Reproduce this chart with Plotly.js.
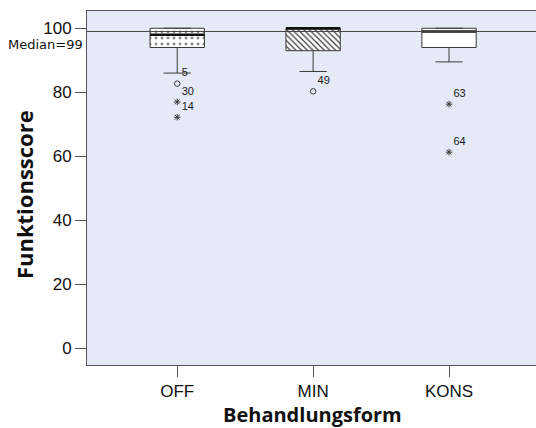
<!DOCTYPE html>
<html>
<head>
<meta charset="utf-8">
<script src="https://cdn.plot.ly/plotly-3.0.1.min.js"></script>
<style>
  html, body { margin: 0; padding: 0; background: #ffffff; }
  #chart { width: 536px; height: 428px; }
</style>
</head>
<body>
<div id="chart"></div>
<script>
// Treatment groups on the x axis
const categories = ['OFF', 'MIN', 'KONS'];

// Box statistics per group (Funktionsscore)
const q1 = [94, 93, 94];
const median = [98, 100, 99];
const q3 = [100, 100, 100];
const lowerWhisker = [86, 86.5, 89.5];
const upperWhisker = [100, 100, 100];

// Outliers: group index, value, case number, kind (mild = circle, extreme = star)
const outlierGroup = [0, 0, 0, 1, 2, 2];
const outlierValue = [82.7, 77, 72.2, 80.3, 76.3, 61.3];
const outlierCase = ['5', '30', '14', '49', '63', '64'];
const outlierKind = ['mild', 'extreme', 'extreme', 'mild', 'extreme', 'extreme'];

// Overall median reference line
const overallMedian = 99;

// Fill patterns of the boxes
const boxPatterns = ['.', '\\', ''];

const yTicks = [0, 20, 40, 60, 80, 100];

const positions = categories.map((_, i) => i);
const boxWidth = 0.4;
const lineColor = '#3a3a3a';

// Patterned box bodies (q1 to q3)
const bodyTrace = {
  type: 'bar',
  x: positions,
  base: q1,
  y: q3.map((v, i) => v - q1[i]),
  width: boxWidth,
  marker: {
    color: '#ffffff',
    line: { width: 0 },
    pattern: {
      shape: boxPatterns,
      fgcolor: ['#8a8a8a', '#3a3a3a', '#ffffff'],
      bgcolor: '#ffffff',
      size: [6, 4, 6],
      solidity: [0.18, 0.3, 0.1]
    }
  },
  hoverinfo: 'skip'
};

// Box outlines and whiskers
const boxTrace = {
  type: 'box',
  x: positions,
  q1: q1,
  median: median,
  q3: q3,
  lowerfence: lowerWhisker,
  upperfence: upperWhisker,
  width: boxWidth,
  whiskerwidth: 0.5,
  boxpoints: false,
  fillcolor: 'rgba(0,0,0,0)',
  line: { color: lineColor, width: 1 },
  hoverinfo: 'skip'
};

// Heavy median bars
const medX = [], medY = [];
positions.forEach((p, i) => {
  medX.push(p - boxWidth / 2, p + boxWidth / 2, null);
  medY.push(median[i], median[i], null);
});
const medianTrace = {
  type: 'scatter',
  mode: 'lines',
  x: medX,
  y: medY,
  line: { color: '#111111', width: 2.5 },
  hoverinfo: 'skip'
};

// Outlier markers with case labels
const outlierTrace = {
  type: 'scatter',
  mode: 'markers+text',
  x: outlierGroup.map(g => positions[g]),
  y: outlierValue,
  text: outlierCase,
  textposition: 'top right',
  textfont: { family: 'Liberation Sans, Arial, sans-serif', size: 11, color: '#1a1a1a' },
  marker: {
    symbol: outlierKind.map(k => (k === 'mild' ? 'circle-open' : 'asterisk-open')),
    size: 5.5,
    color: lineColor,
    line: { color: lineColor, width: 1 }
  },
  cliponaxis: false,
  hoverinfo: 'skip'
};

const tickFont = { family: 'Liberation Sans, Arial, sans-serif', size: 17, color: '#111111' };

const layout = {
  width: 536,
  height: 428,
  margin: { l: 87, r: 0, t: 11, b: 63 },
  paper_bgcolor: '#ffffff',
  plot_bgcolor: '#e6e9f6',
  showlegend: false,
  hovermode: false,
  barmode: 'overlay',
  xaxis: {
    range: [-0.664, 2.64],
    tickvals: positions,
    ticktext: categories,
    ticks: 'outside',
    ticklen: 11,
    tickcolor: '#555555',
    showline: true,
    linecolor: '#555555',
    mirror: true,
    showgrid: false,
    zeroline: false,
    tickfont: tickFont
  },
  yaxis: {
    range: [-5.2, 105.4],
    tickvals: yTicks,
    ticktext: yTicks.map(String),
    ticks: 'outside',
    ticklen: 11,
    tickcolor: '#555555',
    showline: true,
    linecolor: '#555555',
    showgrid: false,
    zeroline: false,
    tickfont: tickFont
  },
  shapes: [{
    type: 'line',
    xref: 'paper', x0: 0, x1: 1,
    yref: 'y', y0: overallMedian, y1: overallMedian,
    line: { color: '#444444', width: 1 },
    layer: 'above'
  }],
  annotations: [
    {
      text: 'Median=' + overallMedian,
      xref: 'paper', x: 0, xanchor: 'right', xshift: -3,
      yref: 'y', y: overallMedian, yanchor: 'middle', yshift: -13,
      showarrow: false,
      borderpad: 0,
      font: { family: 'DejaVu Sans, sans-serif', size: 13, color: '#111111' }
    },
    {
      text: 'Funktionsscore',
      xref: 'paper', x: -0.1403, xanchor: 'center',
      yref: 'paper', y: 0.48, yanchor: 'middle',
      textangle: -90,
      showarrow: false,
      font: { family: 'Open Sans, sans-serif', size: 22, color: '#111111', weight: 700 }
    },
    {
      text: 'Behandlungsform',
      xref: 'paper', x: 0.503, xanchor: 'center',
      yref: 'paper', y: -0.1398, yanchor: 'middle',
      showarrow: false,
      borderpad: 0,
      font: { family: 'Open Sans, sans-serif', size: 20, color: '#111111', weight: 700 }
    }
  ]
};

Plotly.newPlot('chart', [bodyTrace, boxTrace, medianTrace, outlierTrace], layout, {
  displayModeBar: false,
  staticPlot: true
});
</script>
</body>
</html>
